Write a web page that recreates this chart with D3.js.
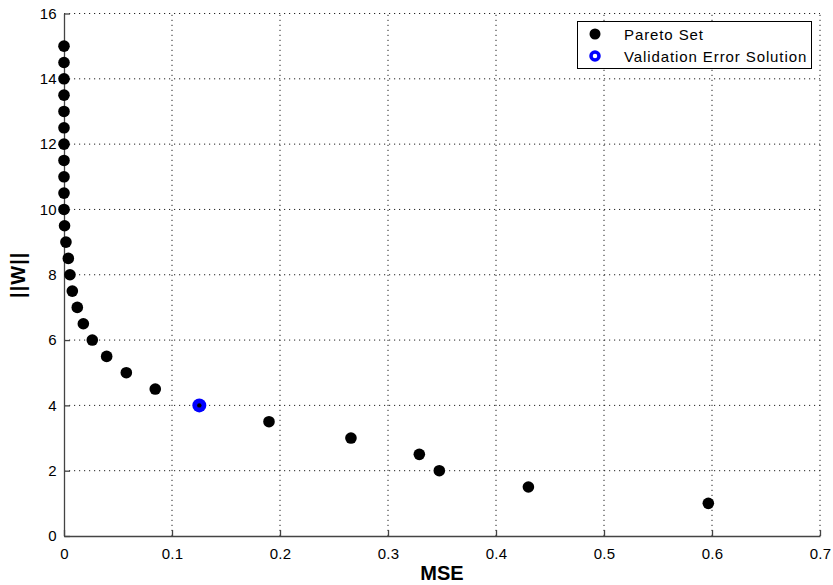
<!DOCTYPE html>
<html><head><meta charset="utf-8">
<script src="https://cdn.jsdelivr.net/npm/d3@7"></script>
<style>body{margin:0;background:#fff;} text{font-family:"Liberation Sans",Arial,Helvetica,sans-serif;}</style>
</head><body><svg id="c" width="833" height="585"></svg>
<script>
const paretoMSE = [0,0,0,0,0,0,0,0,0,0,0,0.0005,0.0018,0.004,0.0055,0.0077,0.0123,0.0179,0.0262,0.0395,0.0577,0.0845,0.1253,0.1898,0.2657,0.329,0.3475,0.430,0.5966];
const paretoW   = [15,14.5,14,13.5,13,12.5,12,11.5,11,10.5,10,9.5,9,8.5,8,7.5,7,6.5,6,5.5,5,4.5,4,3.5,3,2.5,2,1.5,1];
const validMSE = [0.1253];
const validW = [4];
const xTicks = [0,0.1,0.2,0.3,0.4,0.5,0.6,0.7];
const yTicks = [0,2,4,6,8,10,12,14,16];
const legendLabels = ["Pareto Set","Validation Error Solution"];

const svg = d3.select("#c");
const x = d3.scaleLinear().domain([0,0.7]).range([64,820]);
const y = d3.scaleLinear().domain([0,16]).range([536,13.5]);

// grid
const g = svg.append("g");
g.selectAll(".vg").data(xTicks.slice(1)).join("line")
  .attr("x1",d=>x(d)).attr("x2",d=>x(d)).attr("y1",y(0)).attr("y2",y(16))
  .attr("stroke","#222").attr("stroke-width",1).attr("stroke-dasharray","1.2,3.8");
g.selectAll(".hg").data(yTicks.slice(1)).join("line")
  .attr("y1",d=>y(d)).attr("y2",d=>y(d)).attr("x1",x(0)).attr("x2",x(0.7))
  .attr("stroke","#222").attr("stroke-width",1).attr("stroke-dasharray","1.2,3.8");

// axes
const xAxis = d3.axisBottom(x).tickValues(xTicks).tickFormat(d=>d===0?"0":d3.format(".1f")(d)).tickSizeInner(-6).tickSizeOuter(0).tickPadding(12);
const yAxis = d3.axisLeft(y).tickValues(yTicks).tickFormat(d3.format("d")).tickSizeInner(-6).tickSizeOuter(0).tickPadding(7);
const ax = svg.append("g").attr("transform",`translate(0,${y(0)})`).call(xAxis);
const ay = svg.append("g").attr("transform",`translate(${x(0)},0)`).call(yAxis);
[ax,ay].forEach(a=>{
  a.select(".domain").attr("stroke","#444").attr("stroke-width",1.3);
  a.selectAll(".tick line").attr("stroke","#444").attr("stroke-width",1.3);
  a.selectAll("text").attr("font-size",15).attr("fill","#000").attr("letter-spacing",0.3)
   .attr("font-family","'Liberation Sans',Arial,sans-serif");
});

// points
svg.append("g").selectAll("circle").data(paretoMSE.map((m,i)=>[m,paretoW[i]])).join("circle")
  .attr("cx",d=>x(d[0])).attr("cy",d=>y(d[1])).attr("r",5.8).attr("fill","#000");
const vp = svg.append("g");
vp.selectAll("circle.v").data(validMSE.map((m,i)=>[m,validW[i]])).join("circle")
  .attr("cx",d=>x(d[0])).attr("cy",d=>y(d[1])).attr("r",7).attr("fill","#0000ff");
vp.selectAll("circle.c").data(validMSE.map((m,i)=>[m,validW[i]])).join("circle")
  .attr("cx",d=>x(d[0])).attr("cy",d=>y(d[1])).attr("r",2.2).attr("fill","#000");

// labels
svg.append("text").attr("x",(x(0)+x(0.7))/2).attr("y",580).attr("text-anchor","middle")
  .attr("font-size",20).attr("font-weight","bold").text("MSE");
svg.append("text").attr("transform",`translate(25,${(y(0)+y(16))/2}) rotate(-90)`).attr("text-anchor","middle")
  .attr("font-size",20).attr("font-weight","bold").attr("letter-spacing",1).text("||W||");

// legend
const lg = svg.append("g");
lg.append("rect").attr("x",577.5).attr("y",21.5).attr("width",234).attr("height",47)
  .attr("fill","#fff").attr("stroke","#000").attr("stroke-width",1);
lg.append("circle").attr("cx",595).attr("cy",34).attr("r",5.5).attr("fill","#000");
lg.append("circle").attr("cx",595).attr("cy",56).attr("r",4).attr("fill","none").attr("stroke","#0000ff").attr("stroke-width",3.5);
lg.selectAll("text").data(legendLabels).join("text")
  .attr("x",624).attr("y",(d,i)=>i===0?40:62).attr("font-size",15).attr("letter-spacing",0.9).text(d=>d);
</script></body></html>
